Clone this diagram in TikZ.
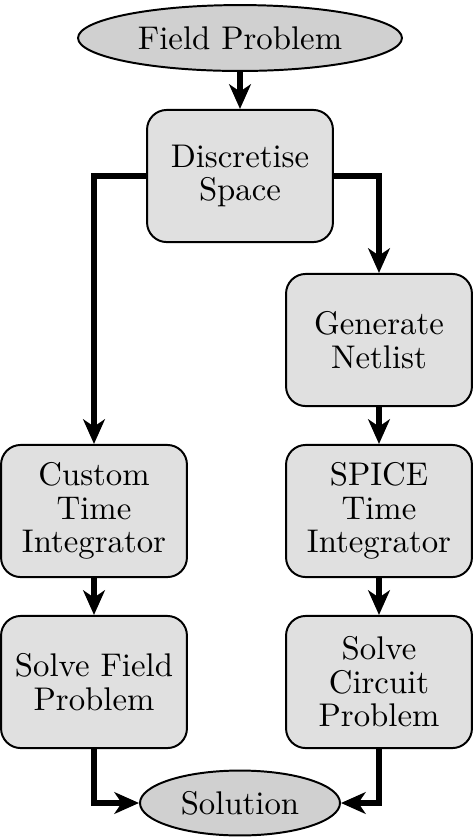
\documentclass[tikz,border=0pt]{standalone}
\usepackage{tikz}
\usetikzlibrary{arrows.meta,shapes.geometric}
\definecolor{boxfill}{HTML}{E0E0E0}
\definecolor{endfill}{HTML}{D0D0D0}

\begin{document}
\begin{tikzpicture}[x=0.305pt,y=-0.305pt,>={Stealth[length=7.5pt,width=6.6pt,inset=2.2pt]}]
      \tikzset{
        stepbox/.style={draw,line width=0.6pt,fill=boxfill,rounded corners=6pt,
          minimum width=56.7pt,minimum height=40.3pt,align=center,inner sep=0pt,
          font=\fontsize{10}{10.2}\selectfont},
        terminal/.style={draw,line width=0.6pt,fill=endfill,ellipse,inner sep=0pt},
        flow/.style={->,line width=1.9pt}
      }
      \useasboundingbox (0,0) rectangle (473,837);

      % terminals
      \node[terminal,minimum width=98.8pt,minimum height=20.1pt] (field) at (240,38) {Field Problem};
      \node[terminal,minimum width=61pt,minimum height=19.8pt] (solution) at (240,803) {Solution};

      % steps
      \node[stepbox] (discretise) at (240,176) {Discretise\\Space};
      \node[stepbox] (netlist) at (379,340) {Generate\\Netlist};
      \node[stepbox] (custom) at (94,511) {Custom\\Time\\Integrator};
      \node[stepbox] (spice) at (379,511) {SPICE\\Time\\Integrator};
      \node[stepbox] (solvefield) at (94,682) {Solve Field\\Problem};
      \node[stepbox] (solvecircuit) at (379,682) {Solve\\Circuit\\Problem};

      % connectors
      \draw[flow] (field) -- (discretise);
      \draw[flow] (discretise.west) -| (custom.north);
      \draw[flow] (discretise.east) -| (netlist.north);
      \draw[flow] (netlist) -- (spice);
      \draw[flow] (custom) -- (solvefield);
      \draw[flow] (spice) -- (solvecircuit);
      \draw[flow] (solvefield.south) |- (solution.west);
      \draw[flow] (solvecircuit.south) |- (solution.east);
    \end{tikzpicture}
\end{document}
